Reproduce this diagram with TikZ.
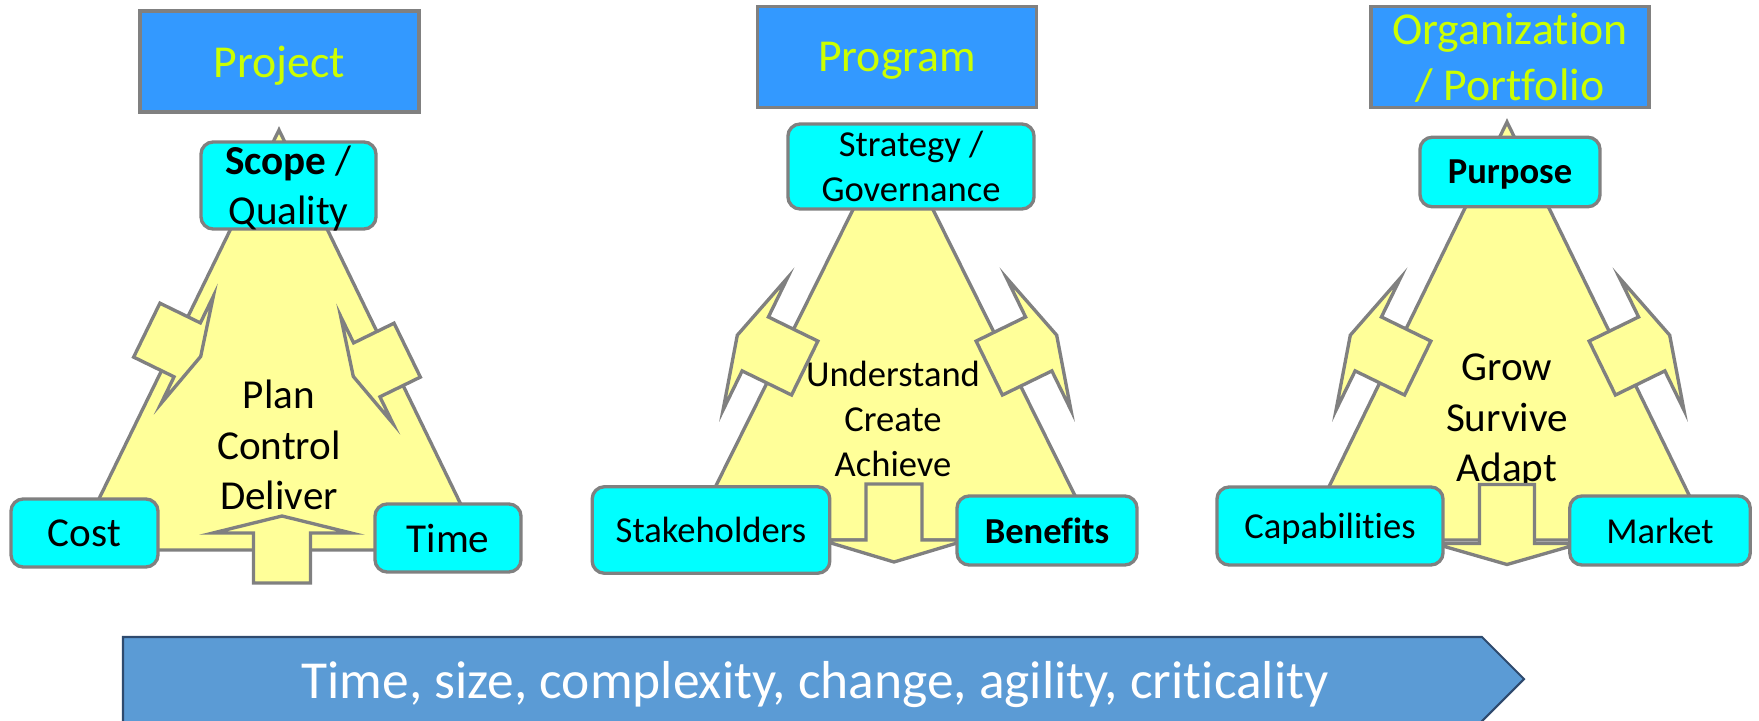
\documentclass[tikz,border=0pt]{standalone}
\usepackage{fontspec}
\setmainfont{Carlito}[Ligatures=NoCommon]

\begin{document}
\begin{tikzpicture}[x=0.01cm, y=-0.01cm,
    level/.style={draw=box_gray, line width=0.95pt, fill=level_blue, text=level_lime, inner sep=0pt, text depth=0pt, align=center, font=\fontsize{13}{16}\selectfont},
    corner/.style={draw=box_gray, line width=0.95pt, fill=corner_cyan, rounded corners=3.5pt, inner sep=0pt, text depth=0pt, align=center},
    tri/.style={draw=box_gray, line width=0.95pt, fill=tri_yellow, line join=miter},
    pics/blkarrow/.style n args={4}{code={
        \draw[tri] ({-#1/2},{-#2/2}) -- ({#1/2},{-#2/2}) -- ({#1/2},{-#3/2}) -- ({#1/2+#4},0)
            -- ({#1/2},{#3/2}) -- ({#1/2},{#2/2}) -- ({-#1/2},{#2/2}) -- cycle;
    }},
]
    \definecolor{box_gray}{HTML}{808080}
    \definecolor{level_blue}{HTML}{3399FF}
    \definecolor{level_lime}{HTML}{CCFF00}
    \definecolor{corner_cyan}{HTML}{00FFFF}
    \definecolor{tri_yellow}{HTML}{FFFF99}
    \definecolor{trend_blue}{HTML}{5B9BD5}
    \definecolor{trend_edge}{HTML}{2E4A6E}
    %\draw[help lines] (0,0) grid[step=1cm] (1759,721);
    \useasboundingbox (0,0) rectangle (1759,721);

    % triangles
    \draw[tri] (279,130) -- (74,550) -- (483,550) -- cycle;
    \draw[tri] (893,129) -- (689,540) -- (1097,540) -- cycle;
    \draw[tri] (1507,122) -- (1303,540) -- (1711,540) -- cycle;

    \node[align=center, font=\fontsize{11.7}{14.3}\selectfont] (plan) at (279,445) {Plan\\Control\\Deliver};
    \node[align=center, font=\fontsize{10.4}{12.7}\selectfont] (understand) at (893,419) {Understand\\Create\\Achieve};
    \node[align=center, font=\fontsize{11.7}{14.3}\selectfont] (grow) at (1507,421) {Grow\\Survive\\Adapt};

    % block arrows on the sides
    \pic[rotate=-26] at (167,340) {blkarrow={45}{60}{119}{15}};
    \pic[rotate=206] at (387,360) {blkarrow={45}{60}{119}{15}};
    \pic[rotate=90] at (282,558) {blkarrow={50}{57}{138}{17}};

    \pic[rotate=154] at (780,356) {blkarrow={55}{60}{147}{20}};
    \pic[rotate=26] at (1014,356) {blkarrow={55}{60}{147}{20}};
    \pic[rotate=-90] at (894,512) {blkarrow={56}{56}{146}{22}};

    \pic[rotate=154] at (1393,356) {blkarrow={55}{60}{147}{20}};
    \pic[rotate=26] at (1627,356) {blkarrow={55}{60}{147}{20}};
    \pic[rotate=-90] at (1507,514) {blkarrow={59}{55}{146}{21}};

    % level boxes
    \node[level, minimum width=2.79cm, minimum height=1.01cm] (project) at (279.5,61.5) {Project};
    \node[level, minimum width=2.785cm, minimum height=1.005cm] (program) at (897,57) {Program};
    \node[level, minimum width=2.78cm, minimum height=1.015cm] (organization) at (1510,57) {Organization\\/ Portfolio};

    % corners
    \node[corner, minimum width=1.75cm, minimum height=0.87cm, font=\fontsize{11.7}{14.3}\selectfont] (scope) at (288.5,185.5) {\textbf{Scope} /\\Quality};
    \node[corner, minimum width=1.47cm, minimum height=0.68cm, font=\fontsize{11.7}{14.3}\selectfont] (cost) at (84.5,533) {Cost};
    \node[corner, minimum width=1.46cm, minimum height=0.68cm, font=\fontsize{11.7}{14.3}\selectfont] (time) at (448,538) {Time};

    \node[corner, minimum width=2.46cm, minimum height=0.85cm, font=\fontsize{10.4}{12.7}\selectfont] (strategy) at (911,166.5) {Strategy /\\Governance};
    \node[corner, minimum width=2.375cm, minimum height=0.865cm, font=\fontsize{10.4}{12.7}\selectfont] (stakeholders) at (711,530) {Stakeholders};
    \node[corner, minimum width=1.8cm, minimum height=0.69cm, font=\fontsize{10.4}{12.7}\selectfont] (benefits) at (1047,530.5) {\textbf{Benefits}};

    \node[corner, minimum width=1.8cm, minimum height=0.695cm, font=\fontsize{10.4}{12.7}\selectfont] (purpose) at (1510,172) {\textbf{Purpose}};
    \node[corner, minimum width=2.26cm, minimum height=0.78cm, font=\fontsize{10.4}{12.7}\selectfont] (capabilities) at (1330,526) {Capabilities};
    \node[corner, minimum width=1.805cm, minimum height=0.69cm, font=\fontsize{10.4}{12.7}\selectfont] (market) at (1660,530.5) {Market};

    % trend arrow
    \draw[fill=trend_blue, draw=trend_edge, line width=0.6pt] (123,637) -- (1482,637) -- (1524,679) -- (1478,725) -- (123,725) -- cycle;
    \node[anchor=base, text=white, font=\fontsize{15.2}{18}\selectfont] (trend) at (815,698) {Time, size, complexity, change, agility, criticality};

\end{tikzpicture}
\end{document}
